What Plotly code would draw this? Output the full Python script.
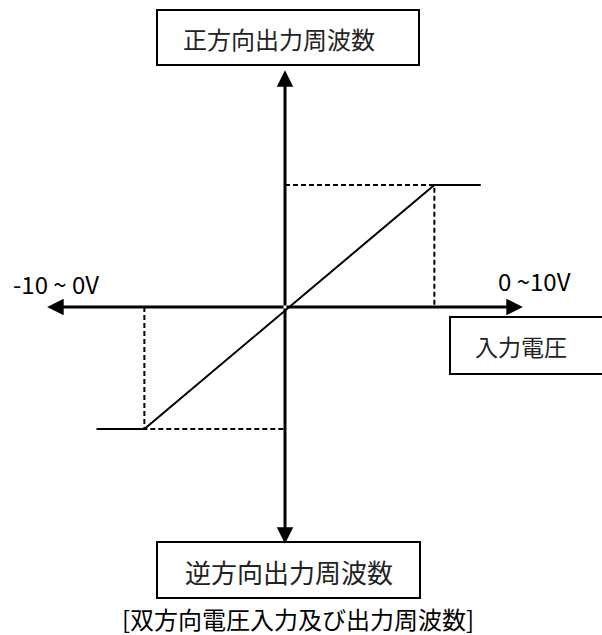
"""Bidirectional voltage input vs. output frequency (schematic transfer curve)."""

import plotly.graph_objects as go

W, H = 602, 635
# origin of the diagram in pixels, and pixels per data unit
OX, OY = 285, 307
SX, SY = 14.5, 1.22

# transfer curve: input voltage (V) -> output frequency (% of max)
curve_v = [-13.0, -9.7, 10.3, 13.5]
curve_f = [-100, -100, 100, 100]

# axis extents (arrow tips)
axis_v = [-16.4, 16.4]
axis_f = [-194, 194]

labels_box = ["正方向出力周波数", "逆方向出力周波数", "入力電圧"]
label_neg = "-10 ~ 0V"
label_pos = "0 ~10V"
caption = "[双方向電圧入力及び出力周波数]"

FONT = "Noto Sans CJK JP"


def px(x):
    return x / W


def py(y):
    return 1 - y / H


fig = go.Figure()

# dashed guides from the saturation corners to the axes
fig.add_trace(go.Scatter(
    x=[0, curve_v[2], curve_v[2]], y=[curve_f[2], curve_f[2], 0],
    mode="lines", line=dict(color="black", width=2, dash="5px,3px"),
    hoverinfo="skip",
))
fig.add_trace(go.Scatter(
    x=[curve_v[1], curve_v[1], 0], y=[0, curve_f[1], curve_f[1]],
    mode="lines", line=dict(color="black", width=2, dash="5px,3px"),
    hoverinfo="skip",
))
# transfer curve
fig.add_trace(go.Scatter(
    x=curve_v, y=curve_f, mode="lines",
    line=dict(color="black", width=2), hoverinfo="skip",
))

annotations = []
# axes drawn as arrows from the origin outward
for tip in axis_v:
    annotations.append(dict(
        x=tip, y=0, ax=0, ay=0, xref="x", yref="y", axref="x", ayref="y",
        text="", showarrow=True, arrowhead=2, arrowsize=1.1, arrowwidth=3,
        arrowcolor="black",
    ))
for tip in axis_f:
    annotations.append(dict(
        x=0, y=tip, ax=0, ay=0, xref="x", yref="y", axref="x", ayref="y",
        text="", showarrow=True, arrowhead=2, arrowsize=1.1, arrowwidth=3,
        arrowcolor="black",
    ))

# boxed labels: (left, top, right, bottom) in px, text centre, font size
boxes = [
    ((157, 10, 419, 65), (279, 39), 24, labels_box[0]),
    ((157, 542, 420, 598), (289, 571), 26, labels_box[1]),
    ((450, 317, 604, 374), (521, 346), 23, labels_box[2]),
]
shapes = []
for (l, t, r, b), (cx, cy), size, txt in boxes:
    shapes.append(dict(
        type="rect", xref="paper", yref="paper",
        x0=px(l), x1=px(r), y0=py(b), y1=py(t),
        line=dict(color="black", width=2), fillcolor="white", layer="below",
    ))
    annotations.append(dict(
        x=px(cx), y=py(cy), xref="paper", yref="paper", text=txt,
        showarrow=False, xanchor="center", yanchor="middle",
        font=dict(family=FONT, size=size, color="#222"),
    ))

annotations += [
    dict(x=px(11), y=py(283), xref="paper", yref="paper", text=label_neg,
         showarrow=False, xanchor="left", yanchor="middle",
         font=dict(family=FONT, size=24, color="black")),
    dict(x=px(496), y=py(280), xref="paper", yref="paper", text=label_pos,
         showarrow=False, xanchor="left", yanchor="middle",
         font=dict(family=FONT, size=24, color="black")),
    dict(x=px(298), y=py(618), xref="paper", yref="paper", text=caption,
         showarrow=False, xanchor="center", yanchor="middle", borderpad=0,
         font=dict(family=FONT, size=24, color="black")),
]

fig.update_layout(
    width=W, height=H,
    margin=dict(l=0, r=0, t=0, b=0),
    showlegend=False,
    paper_bgcolor="white", plot_bgcolor="white",
    shapes=shapes, annotations=annotations,
)
fig.update_xaxes(range=[-OX / SX, (W - OX) / SX], visible=False, fixedrange=True)
fig.update_yaxes(range=[-(H - OY) / SY, OY / SY], visible=False, fixedrange=True)
# page body has a default 8px margin; drop it so pixels line up
fig.write_html(
    "out.html",
    config=dict(displayModeBar=False),
    post_script="document.body.style.margin='0';",
)
